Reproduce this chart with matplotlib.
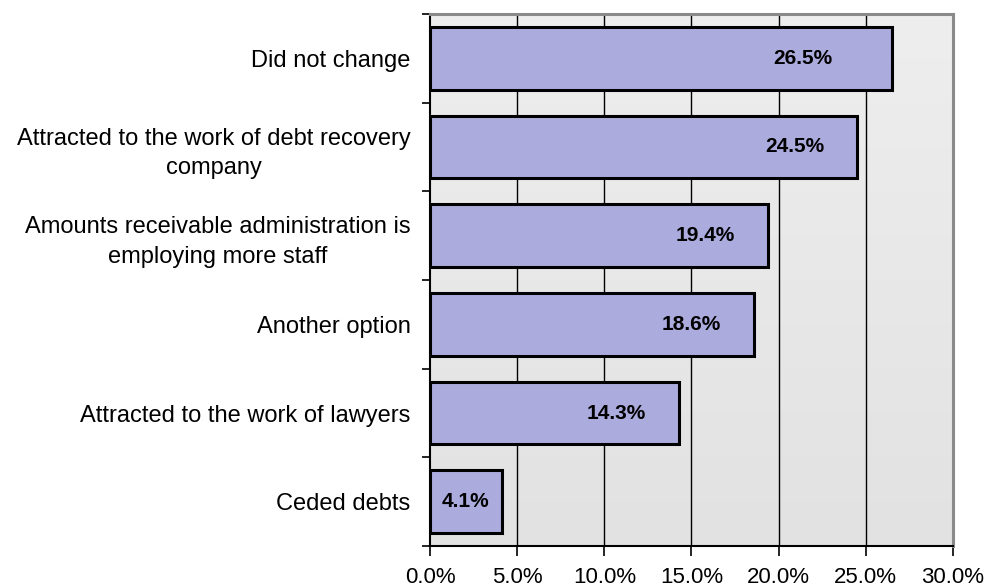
import numpy as np
import matplotlib.pyplot as plt
from matplotlib.colors import LinearSegmentedColormap

# survey answers, top to bottom
categories = [
    "Did not change",
    "Attracted to the work of debt recovery\ncompany",
    "Amounts receivable administration is\nemploying more staff",
    "Another option",
    "Attracted to the work of lawyers",
    "Ceded debts",
]
shares = [26.5, 24.5, 19.4, 18.6, 14.3, 4.1]
xticks = [0, 5, 10, 15, 20, 25, 30]

plt.rcParams['font.family'] = ['Liberation Sans', 'DejaVu Sans']

fig = plt.figure(figsize=(9.87, 5.88), dpi=100)
ax = fig.add_axes([0.4357, 0.0714, 0.5298, 0.9048])

n = len(categories)
ypos = np.arange(n)

# soft grey gradient behind the bars
grad = LinearSegmentedColormap.from_list('bg', ['#eeeeee', '#e2e2e2'])
ax.imshow(np.linspace(0, 1, 256).reshape(-1, 1), cmap=grad, aspect='auto',
          extent=[0, 30, n - 0.5, -0.5], zorder=0)

for x in xticks[1:-1]:
    ax.axvline(x, color='black', lw=1.0, zorder=1)

ax.barh(ypos, shares, height=0.71, color='#ababde', edgecolor='black',
        linewidth=2.2, zorder=2)

for i, v in enumerate(shares):
    if v < 8:
        xl = v / 2
    elif i == 0:
        xl = v - 5.1
    else:
        xl = v - 3.6
    ax.text(xl, i, f"{v:.1f}%", ha='center', va='center', fontsize=15,
            fontweight='bold', zorder=3)

ax.set_xlim(0, 30)
ax.set_ylim(n - 0.5, -0.5)
ax.set_xticks(xticks)
ax.set_xticklabels([f"{x:.1f}%" for x in xticks], fontsize=16)
ax.tick_params(axis='x', direction='out', length=7, width=1.2, pad=8)

ax.set_yticks(ypos)
ax.set_yticklabels(categories, fontsize=17)
ax.set_yticks(np.arange(n + 1) - 0.5, minor=True)
ax.tick_params(axis='y', which='major', length=0, pad=14)
ax.tick_params(axis='y', which='minor', direction='out', length=6, width=1.2)
for lab in ax.get_yticklabels():
    lab.set_multialignment('center')
    lab.set_linespacing(1.45)

ax.spines['left'].set_linewidth(1.5)
ax.spines['bottom'].set_linewidth(1.5)
ax.spines['top'].set_color('#8a8a8a')
ax.spines['right'].set_color('#8a8a8a')
ax.spines['top'].set_linewidth(2.2)
ax.spines['right'].set_linewidth(2.2)

fig.savefig('out.png', dpi=100)
